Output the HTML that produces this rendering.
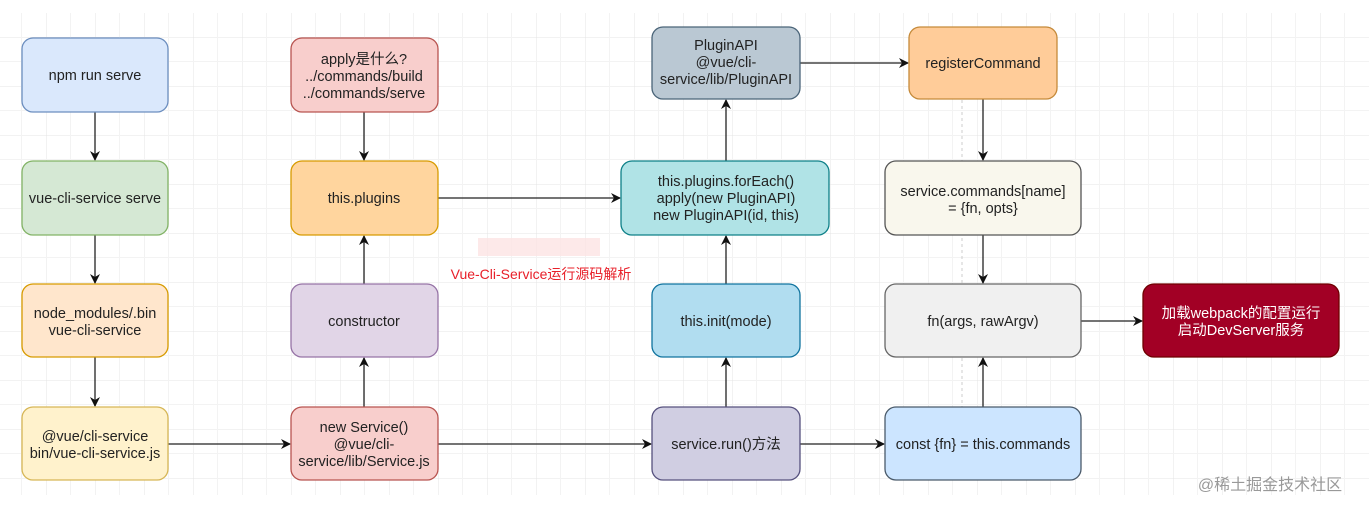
<!DOCTYPE html>
<html><head><meta charset="utf-8"><style>
html,body{margin:0;padding:0;background:#fff;}
svg text{font-family:"Liberation Sans","Noto Sans CJK SC",sans-serif;font-size:14.5px;fill:#222;text-anchor:middle;}
</style></head><body>
<svg width="1369" height="512" viewBox="0 0 1369 512" xmlns="http://www.w3.org/2000/svg">
<defs>
<pattern id="g" x="-3" y="-12" width="49" height="49" patternUnits="userSpaceOnUse">
<path d="M0 0H49M0 0V49" stroke="#e4e4e4" stroke-width="1" fill="none"/>
<path d="M0 24.5H49M24.5 0V49" stroke="#f3f3f3" stroke-width="1" fill="none"/>
</pattern>
<marker id="a" markerWidth="10" markerHeight="10" refX="9" refY="5" orient="auto" markerUnits="userSpaceOnUse">
<path d="M0 0L10 5L0 10L3 5Z" fill="#111"/>
</marker>
</defs>
<rect x="0" y="13" width="1369" height="482" fill="url(#g)"/>
<line x1="962" y1="100" x2="962" y2="480" stroke="#ccc" stroke-dasharray="3,3"/>
<g stroke="#222" stroke-width="1.3" fill="none" marker-end="url(#a)">
<line x1="95" y1="112" x2="95" y2="160"/>
<line x1="95" y1="235" x2="95" y2="283"/>
<line x1="95" y1="357" x2="95" y2="406"/>
<line x1="168" y1="444" x2="290" y2="444"/>
<line x1="364" y1="112" x2="364" y2="160"/>
<line x1="364" y1="407" x2="364" y2="358"/>
<line x1="364" y1="284" x2="364" y2="236"/>
<line x1="438" y1="198" x2="620" y2="198"/>
<line x1="438" y1="444" x2="651" y2="444"/>
<line x1="726" y1="407" x2="726" y2="358"/>
<line x1="726" y1="284" x2="726" y2="236"/>
<line x1="726" y1="161" x2="726" y2="100"/>
<line x1="800" y1="63" x2="908" y2="63"/>
<line x1="983" y1="99" x2="983" y2="160"/>
<line x1="983" y1="235" x2="983" y2="283"/>
<line x1="983" y1="407" x2="983" y2="358"/>
<line x1="800" y1="444" x2="884" y2="444"/>
<line x1="1081" y1="321" x2="1142" y2="321"/>
</g>
<g stroke-width="1.3">
<rect x="22" y="38" width="146" height="74" rx="11" fill="#dae8fc" stroke="#6c8ebf"/>
<rect x="22" y="161" width="146" height="74" rx="11" fill="#d5e8d4" stroke="#82b366"/>
<rect x="22" y="284" width="146" height="73" rx="11" fill="#ffe6cc" stroke="#d79b00"/>
<rect x="22" y="407" width="146" height="73" rx="11" fill="#fff2cc" stroke="#d6b656"/>
<rect x="291" y="38" width="147" height="74" rx="11" fill="#f8cecc" stroke="#b85450"/>
<rect x="291" y="161" width="147" height="74" rx="11" fill="#ffd59e" stroke="#d79b00"/>
<rect x="291" y="284" width="147" height="73" rx="11" fill="#e1d5e7" stroke="#9673a6"/>
<rect x="291" y="407" width="147" height="73" rx="11" fill="#f8cecc" stroke="#b85450"/>
<rect x="652" y="27" width="148" height="72" rx="11" fill="#bac8d3" stroke="#4a6478"/>
<rect x="621" y="161" width="208" height="74" rx="11" fill="#b0e3e6" stroke="#0e8088"/>
<rect x="652" y="284" width="148" height="73" rx="11" fill="#b1ddf0" stroke="#10739e"/>
<rect x="652" y="407" width="148" height="73" rx="11" fill="#d0cee2" stroke="#56517e"/>
<rect x="909" y="27" width="148" height="72" rx="11" fill="#ffcc99" stroke="#c58a3a"/>
<rect x="885" y="161" width="196" height="74" rx="11" fill="#f9f7ed" stroke="#555"/>
<rect x="885" y="284" width="196" height="73" rx="11" fill="#f0f0f0" stroke="#666"/>
<rect x="885" y="407" width="196" height="73" rx="11" fill="#cce5ff" stroke="#4a5a6a"/>
<rect x="1143" y="284" width="196" height="73" rx="11" fill="#a20025" stroke="#6f0000"/>
</g>
<text x="95" y="80">npm run serve</text>
<text x="95" y="203">vue-cli-service serve</text>
<text x="95" y="318">node_modules/.bin</text>
<text x="95" y="335">vue-cli-service</text>
<text x="95" y="441">@vue/cli-service</text>
<text x="95" y="458">bin/vue-cli-service.js</text>
<text x="364" y="64">apply是什么?</text>
<text x="364" y="81">../commands/build</text>
<text x="364" y="98">../commands/serve</text>
<text x="364" y="203">this.plugins</text>
<text x="364" y="326">constructor</text>
<text x="364" y="432">new Service()</text>
<text x="364" y="449">@vue/cli-</text>
<text x="364" y="466">service/lib/Service.js</text>
<text x="726" y="50">PluginAPI</text>
<text x="726" y="67">@vue/cli-</text>
<text x="726" y="84">service/lib/PluginAPI</text>
<text x="726" y="186">this.plugins.forEach()</text>
<text x="726" y="203">apply(new PluginAPI)</text>
<text x="726" y="220">new PluginAPI(id, this)</text>
<text x="726" y="326">this.init(mode)</text>
<text x="726" y="449">service.run()方法</text>
<text x="983" y="68">registerCommand</text>
<text x="983" y="196">service.commands[name]</text>
<text x="983" y="213">= {fn, opts}</text>
<text x="983" y="326">fn(args, rawArgv)</text>
<text x="983" y="449">const {fn} = this.commands</text>
<text x="1241" y="318" style="fill:#fff">加载webpack的配置运行</text>
<text x="1241" y="335" style="fill:#fff">启动DevServer服务</text>
<rect x="478" y="238" width="122" height="18" fill="#fde3e3" opacity="0.8"/>
<text x="541" y="279" style="fill:#e8202a;font-size:14px">Vue-Cli-Service运行源码解析</text>
<text x="1270" y="490" style="fill:#999;font-size:16px">@稀土掘金技术社区</text>
</svg>
</body></html>
